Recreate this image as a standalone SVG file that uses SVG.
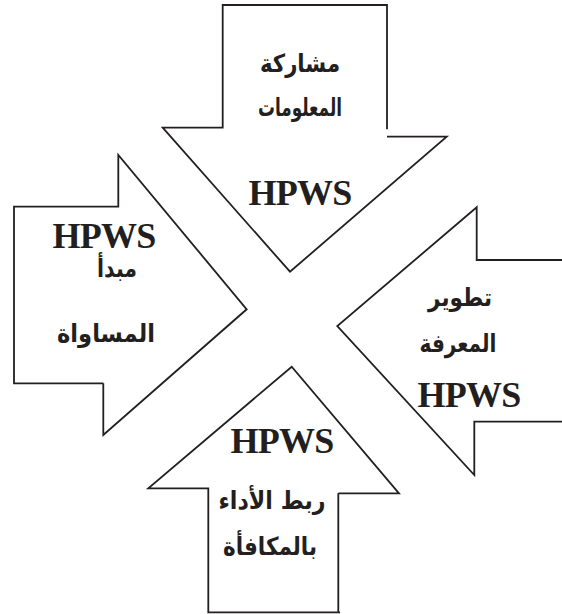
<svg xmlns="http://www.w3.org/2000/svg" width="562" height="614" viewBox="0 0 562 614">
<style>
.outline{fill:none;stroke:#231f20;stroke-width:1.8;stroke-linejoin:miter}
.en{font-family:"Liberation Serif","Times New Roman",serif;font-weight:bold;font-size:36px;fill:#231f20;text-anchor:middle;letter-spacing:-0.8px}
.ar{font-family:"DejaVu Sans","Noto Sans",sans-serif;font-weight:bold;font-size:25px;fill:#231f20;text-anchor:middle}
</style>
<rect width="562" height="614" fill="#ffffff"/>
<g id="arrow-top">
<path class="outline" d="M387,129.3 V5 H222.7 V127.7 H162.7 L290,271.7 L446.7,136.7 H387"/>
<text class="ar" x="300" y="72" direction="rtl" textLength="80" lengthAdjust="spacingAndGlyphs">مشاركة</text>
<text class="ar" x="300" y="116" direction="rtl" textLength="84" lengthAdjust="spacingAndGlyphs">المعلومات</text>
<text class="en" x="300" y="205">HPWS</text>
</g>
<g id="arrow-left">
<path class="outline" d="M103.3,383.3 H14 V206.7 H118.3 V155 L246.7,309.3 L103.3,435 V383.3"/>
<text class="en" x="104" y="248">HPWS</text>
<text class="ar" x="117" y="277" direction="rtl" textLength="40" lengthAdjust="spacingAndGlyphs">مبدأ</text>
<text class="ar" x="106" y="342" direction="rtl" textLength="98" lengthAdjust="spacingAndGlyphs">المساواة</text>
</g>
<g id="arrow-right">
<path class="outline" d="M562,260 H476.7 V207.3 L337.3,326 L474.3,475 V421.7 H562"/>
<text class="ar" x="460" y="306" direction="rtl" textLength="64" lengthAdjust="spacingAndGlyphs">تطوير</text>
<text class="ar" x="458" y="352" direction="rtl" textLength="77" lengthAdjust="spacingAndGlyphs">المعرفة</text>
<text class="en" x="469" y="407">HPWS</text>
</g>
<g id="arrow-bottom">
<path class="outline" d="M338.3,493.3 H399 L291.7,366.7 L148.3,488.3 H208.3 V612.3 H340 M338.3,493.3 V612.3"/>
<text class="en" x="282" y="453">HPWS</text>
<text class="ar" x="272" y="509" direction="rtl" textLength="107" lengthAdjust="spacingAndGlyphs">ربط الأداء</text>
<text class="ar" x="270" y="555" direction="rtl" textLength="94" lengthAdjust="spacingAndGlyphs">بالمكافأة</text>
</g>
<g id="connectors"></g>
</svg>
